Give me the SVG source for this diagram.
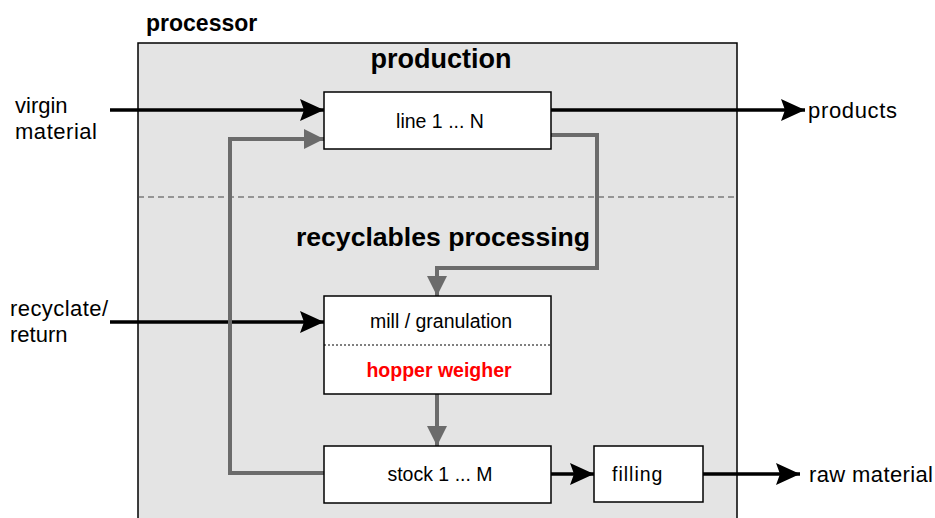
<svg xmlns="http://www.w3.org/2000/svg" width="935" height="518" viewBox="0 0 935 518">
<style>
text{font-family:"Liberation Sans",Arial,sans-serif;fill:#000}
.box{fill:#fff;stroke:#000;stroke-width:1.5}
.blk{fill:none;stroke:#000;stroke-width:3.5}
.gry{fill:none;stroke:#6b6b6b;stroke-width:4}
.lbl{font-size:22px}
.bt{font-size:19.5px}
</style>
<defs>
<marker id="ab" markerUnits="userSpaceOnUse" viewBox="0 0 24 22" refX="24" refY="11" markerWidth="24" markerHeight="22" orient="auto"><path d="M0,0 L24,11 L0,22 L4,11 Z" fill="#000"/></marker>
<marker id="ag" markerUnits="userSpaceOnUse" viewBox="0 0 20 20" refX="20" refY="10" markerWidth="20" markerHeight="20" orient="auto"><path d="M0,0 L20,10 L0,20 Z" fill="#6b6b6b"/></marker>
</defs>
<rect width="935" height="518" fill="#fff"/>
<g id="processor">
<rect x="138" y="43" width="599" height="490" fill="#e4e4e4" stroke="#000" stroke-width="1.5"/>
<line x1="138" y1="197" x2="737" y2="197" stroke="#444" stroke-width="1" stroke-dasharray="6,4"/>
<text x="146" y="31" font-size="23" font-weight="bold">processor</text>
<text x="441" y="68" font-size="27" font-weight="bold" text-anchor="middle">production</text>
<text x="443" y="246" font-size="26.6" font-weight="bold" text-anchor="middle">recyclables processing</text>
</g>
<g id="connectors">
<line class="blk" x1="110" y1="110" x2="324" y2="110" marker-end="url(#ab)"/>
<line class="blk" x1="551" y1="110" x2="805" y2="110" marker-end="url(#ab)"/>
<line class="blk" x1="110" y1="322" x2="324" y2="322" marker-end="url(#ab)"/>
<line class="blk" x1="551" y1="474" x2="594" y2="474" marker-end="url(#ab)"/>
<line class="blk" x1="703" y1="474" x2="800" y2="474" marker-end="url(#ab)"/>
<polyline class="gry" points="551,135 597,135 597,268 437,268 437,296" marker-end="url(#ag)"/>
<line class="gry" x1="437" y1="394" x2="437" y2="446" marker-end="url(#ag)"/>
<polyline class="gry" points="324,473 230,473 230,139 324,139" marker-end="url(#ag)"/>
</g>
<g id="line">
<rect class="box" x="324" y="92" width="227" height="57"/>
<text x="440" y="128" class="bt" text-anchor="middle">line 1 ... N</text>
</g>
<g id="mill">
<rect class="box" x="324" y="296" width="227" height="98"/>
<line x1="324" y1="345" x2="551" y2="345" stroke="#000" stroke-width="1" stroke-dasharray="2,2"/>
<text x="441" y="328" class="bt" text-anchor="middle">mill / granulation</text>
<text x="439" y="377" class="bt" font-weight="bold" text-anchor="middle" style="fill:#ff0000">hopper weigher</text>
</g>
<g id="stock">
<rect class="box" x="324" y="446" width="227" height="57"/>
<text x="440" y="481" class="bt" text-anchor="middle">stock 1 ... M</text>
</g>
<g id="filling">
<rect class="box" x="594" y="446" width="109" height="56"/>
<text x="612" y="481" class="bt" letter-spacing="1">filling</text>
</g>
<g id="labels">
<text x="15" y="113" class="lbl">virgin</text>
<text x="15" y="139" class="lbl" textLength="82">material</text>
<text x="808" y="118" class="lbl" textLength="89">products</text>
<text x="10" y="316" class="lbl" textLength="98">recyclate/</text>
<text x="10" y="342" class="lbl">return</text>
<text x="809" y="482" class="lbl" textLength="124">raw material</text>
</g>
</svg>
